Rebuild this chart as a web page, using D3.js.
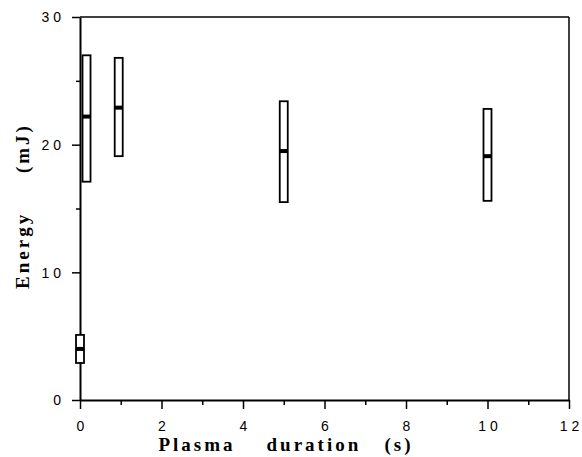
<!DOCTYPE html>
<html>
<head>
<meta charset="utf-8">
<script src="https://cdn.jsdelivr.net/npm/d3@7"></script>
<style>
  body { margin: 0; background: #fff; }
  .tick text { font-family: "Liberation Sans", Arial, sans-serif; font-size: 14px; letter-spacing: 4px; fill: #000; }
  .axis-title { font-family: "Liberation Serif", "Times New Roman", serif; font-weight: bold; font-size: 19px; letter-spacing: 3px; fill: #000; }
</style>
</head>
<body>
<div id="chart"></div>
<script>
// plasma duration (s) and measured energy range (mJ)
var durations = [0, 0.16, 0.95, 5, 10];
var energyLow = [2.9, 17.1, 19.1, 15.5, 15.6];
var energyHigh = [5.1, 27.0, 26.8, 23.4, 22.8];
var energyMid = [4.0, 22.2, 22.9, 19.5, 19.1];
var xTicks = [0, 2, 4, 6, 8, 10, 12];
var yTicks = [0, 10, 20, 30];

var svgWidth = 582;
var svgHeight = 457;

var margin = {top: 17, right: 13, bottom: 57, left: 80};
var chartWidth = svgWidth - margin.left - margin.right;
var chartHeight = svgHeight - margin.top - margin.bottom;

var svg = d3.select("#chart")
    .append("svg")
    .attr("width", svgWidth)
    .attr("height", svgHeight);

var chartGroup = svg.append("g")
    .attr("transform", `translate(${margin.left},${margin.top})`);

var xScale = d3.scaleLinear().domain([0, 12]).range([0, chartWidth]);
var yScale = d3.scaleLinear().domain([0, 30]).range([chartHeight, 0]);

var data = durations.map(function(d, i) {
    return {x: d, lo: energyLow[i], hi: energyHigh[i], mid: energyMid[i]};
});

// frame top / right
chartGroup.append("line")
    .attr("x1", 0).attr("x2", chartWidth).attr("y1", 0).attr("y2", 0)
    .attr("stroke", "#000").attr("stroke-width", 1.5);
chartGroup.append("line")
    .attr("x1", chartWidth).attr("x2", chartWidth).attr("y1", 0).attr("y2", chartHeight)
    .attr("stroke", "#000").attr("stroke-width", 1.5);

// minor ticks
chartGroup.append("g")
    .attr("transform", `translate(0,${chartHeight})`)
    .call(d3.axisBottom(xScale).tickValues(d3.range(1, 12, 2)).tickSize(5).tickFormat(""))
    .call(g => g.select(".domain").remove())
    .selectAll("line").attr("stroke-width", 1.5);
chartGroup.append("g")
    .call(d3.axisLeft(yScale).tickValues([5, 15, 25]).tickSize(4).tickFormat(""))
    .call(g => g.select(".domain").remove())
    .selectAll("line").attr("stroke-width", 1.5);

// main axes
var xAxis = chartGroup.append("g")
    .attr("transform", `translate(0,${chartHeight})`)
    .call(d3.axisBottom(xScale).tickValues(xTicks).tickSize(9).tickSizeOuter(0).tickPadding(12));
var yAxis = chartGroup.append("g")
    .call(d3.axisLeft(yScale).tickValues(yTicks).tickSize(8).tickSizeOuter(0).tickPadding(7));

[xAxis, yAxis].forEach(function(a) {
    a.select(".domain").attr("stroke-width", 2);
    a.selectAll(".tick line").attr("stroke-width", 1.5);
});
yAxis.selectAll(".tick text").attr("dy", "0.35em");
xAxis.selectAll(".tick text").attr("dx", "2px");

// range boxes
var boxW = 8;
var boxes = chartGroup.selectAll("g.box")
    .data(data)
    .enter()
    .append("g")
    .attr("class", "box");

boxes.append("rect")
    .attr("x", d => xScale(d.x) - boxW / 2)
    .attr("y", d => yScale(d.hi))
    .attr("width", boxW)
    .attr("height", d => yScale(d.lo) - yScale(d.hi))
    .attr("fill", "#fff")
    .attr("stroke", "#000")
    .attr("stroke-width", 1.8);

boxes.append("rect")
    .attr("x", d => xScale(d.x) - boxW / 2)
    .attr("y", d => yScale(d.mid) - 2)
    .attr("width", boxW)
    .attr("height", 4)
    .attr("fill", "#000");

// axis titles
svg.append("text")
    .attr("class", "axis-title")
    .attr("x", 286)
    .attr("y", 451)
    .attr("text-anchor", "middle")
    .attr("xml:space", "preserve")
    .text("Plasma    duration   (s)");

svg.append("text")
    .attr("class", "axis-title")
    .attr("transform", "rotate(-90)")
    .attr("x", -206)
    .attr("y", 29)
    .attr("text-anchor", "middle")
    .attr("xml:space", "preserve")
    .text("Energy     (mJ)");
</script>
</body>
</html>
